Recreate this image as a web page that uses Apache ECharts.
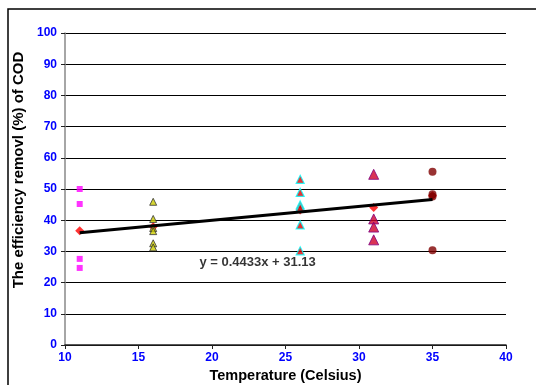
<!DOCTYPE html>
<html><head><meta charset="utf-8">
<script src="https://cdn.jsdelivr.net/npm/echarts@6/dist/echarts.min.js"></script>
<style>html,body{margin:0;padding:0;background:#fff}#c{width:536px;height:385px}</style>
</head><body><div id="c"></div>
<script>
const xTicks = [10, 15, 20, 25, 30, 35, 40];
const yTicks = [0, 10, 20, 30, 40, 50, 60, 70, 80, 90, 100];
const t11 = [[11, 50.0], [11, 45.2], [11, 27.6], [11, 24.7]];
const t16 = [[16, 45.9], [16, 40.4], [16, 37.5], [16, 36.5], [16, 32.6], [16, 31.3]];
const t26 = [[26, 53.1], [26, 48.9], [26, 44.9], [26, 44.1], [26, 38.5], [26, 30.2]];
const t31 = [[31, 54.7], [31, 40.4], [31, 37.8], [31, 33.7]];
const t35 = [[35, 55.5], [35, 48.3], [35, 47.6], [35, 30.4]];
const means = [[11, 36.6], [16, 37.9], [26, 43.3], [31, 44.1], [35, 47.8]];
const trend = [[11, 36.0], [35, 46.65]];
const equation = 'y = 0.4433x + 31.13';
const eqPos = [23.1, 26.5];

const chart = echarts.init(document.getElementById('c'));
const font = 'Liberation Sans, Arial, sans-serif';
chart.setOption({
  animation: false,
  grid: {left: 65, right: 30, top: 33, bottom: 40, containLabel: false, outerBoundsMode: 'none'},
  graphic: [{type: 'rect', shape: {x: 8, y: 9, width: 600, height: 400}, style: {fill: 'none', stroke: '#000', lineWidth: 1.5}, z: 100}],
  xAxis: {
    type: 'value', min: xTicks[0], max: xTicks[xTicks.length - 1], interval: 5,
    name: 'Temperature (Celsius)', nameLocation: 'middle', nameGap: 22,
    nameTextStyle: {fontFamily: font, fontWeight: 'bold', fontSize: 14.5, color: '#000'},
    axisLine: {lineStyle: {color: '#222', width: 1.5}},
    axisTick: {show: true, length: 4, lineStyle: {color: '#222'}},
    axisLabel: {fontFamily: font, fontWeight: 'bold', fontSize: 12, color: '#0000FF', margin: 7},
    splitLine: {show: false}
  },
  yAxis: {
    type: 'value', min: yTicks[0], max: yTicks[yTicks.length - 1], interval: 10,
    name: 'The efficiency removl (%) of COD', nameLocation: 'middle', nameGap: 31,
    nameTextStyle: {fontFamily: font, fontWeight: 'bold', fontSize: 15, color: '#000', padding: [0, 0, 0, 38]},
    axisLine: {show: true, lineStyle: {color: '#888', width: 1.5}},
    axisTick: {show: true, length: 4, lineStyle: {color: '#222'}},
    axisLabel: {fontFamily: font, fontWeight: 'bold', fontSize: 12, color: '#0000FF', margin: 8},
    splitLine: {show: true, lineStyle: {color: '#000', width: 1}}
  },
  series: [
    {type: 'scatter', data: means, symbol: 'diamond', symbolSize: 9, itemStyle: {color: '#FF0000'}, z: 2},
    {type: 'scatter', data: t11, symbol: 'rect', symbolSize: 6, itemStyle: {color: '#FF00FF'}, z: 3},
    {type: 'scatter', data: t16, symbol: 'triangle', symbolSize: 7, itemStyle: {color: '#CCCC00', borderColor: '#333', borderWidth: 1}, z: 3},
    {type: 'scatter', data: t26, symbol: 'triangle', symbolSize: 8, itemStyle: {color: '#E00000', borderColor: '#00FFFF', borderWidth: 1.2}, z: 3},
    {type: 'scatter', data: t31, symbol: 'triangle', symbolSize: 10, itemStyle: {color: '#D0002A', borderColor: '#800080', borderWidth: 1}, z: 3},
    {type: 'scatter', data: t35, symbol: 'circle', symbolSize: 8, itemStyle: {color: '#800000'}, z: 3},
    {type: 'line', data: trend, symbol: 'none', lineStyle: {color: '#000', width: 3}, z: 4},
    {type: 'scatter', data: [eqPos], symbolSize: 0, silent: true, z: 5,
     label: {show: true, position: [0, 0], align: 'center', verticalAlign: 'middle', formatter: equation, fontFamily: font, fontWeight: 'bold', fontSize: 13, color: '#000'}}
  ]
});
</script></body></html>
